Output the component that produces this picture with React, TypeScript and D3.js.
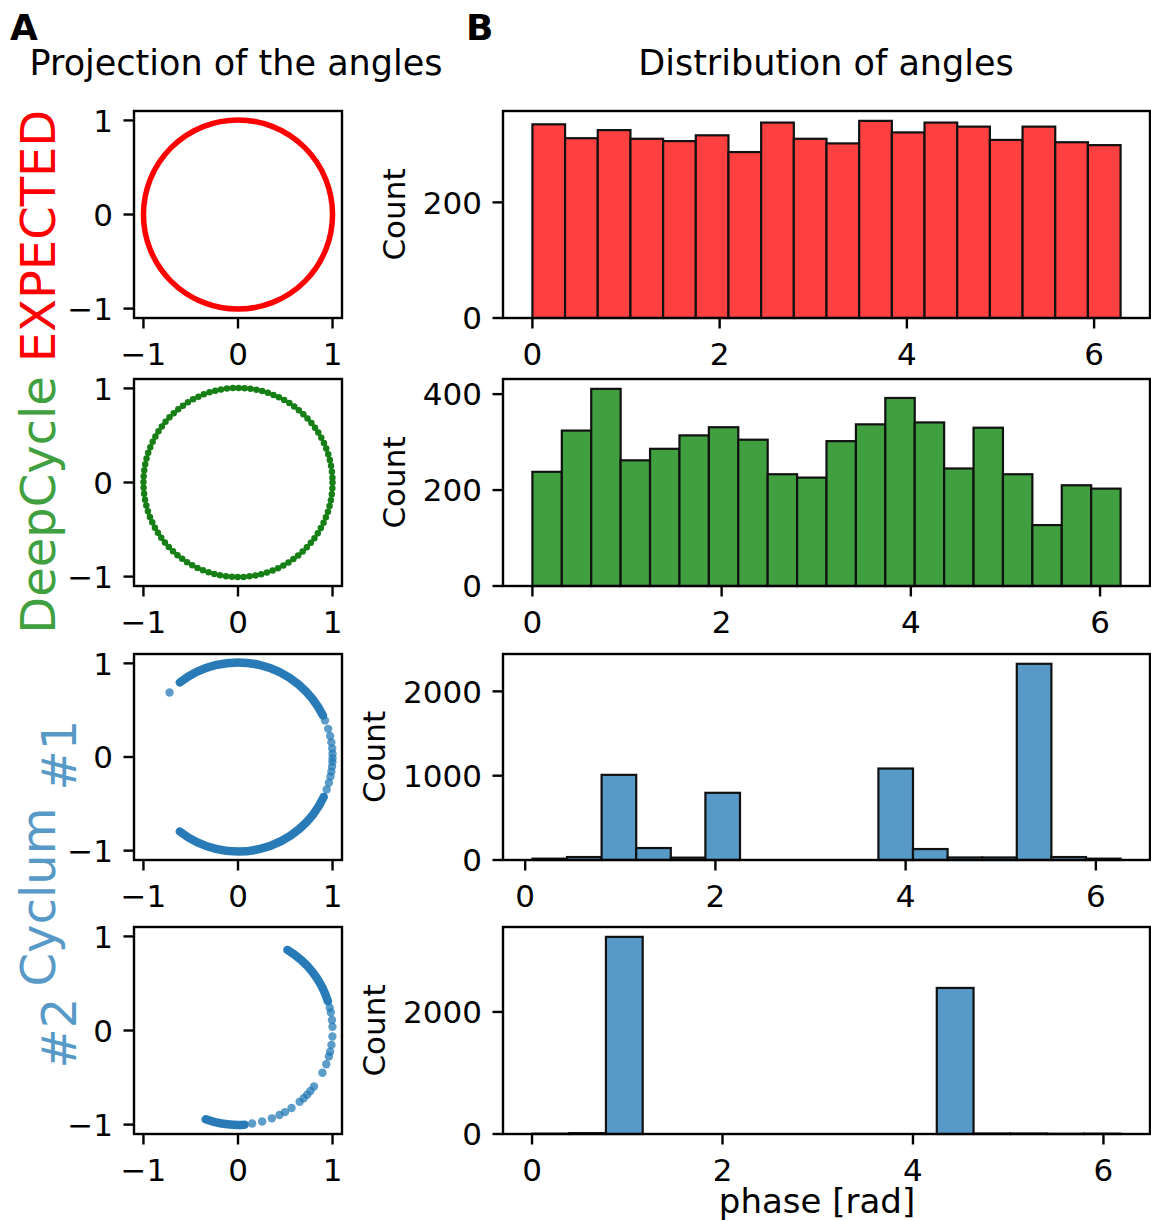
import React from "react";
import * as d3 from "d3";

// ---------- data ----------
const expectedCounts = [335, 311, 325, 310, 306, 316, 287, 338, 310, 302, 341, 321, 338, 331, 308, 331, 304, 299];
const deepCycleCounts = [238, 324, 411, 262, 286, 314, 331, 305, 233, 226, 302, 337, 392, 341, 245, 330, 233, 127, 210, 203];
const cyclum1Counts = [16, 35, 1010, 142, 28, 797, 0, 0, 0, 0, 1085, 130, 30, 30, 2327, 35, 16];
const cyclum2Counts = [5, 15, 3230, 0, 0, 0, 0, 0, 0, 0, 0, 2393, 8, 8, 3, 5];

const expectedRange = [0, 6.283];
const deepCycleRange = [0, 6.217];
const cyclum1Range = [0.076, 6.26];
const cyclum2Range = [0.004, 6.18];

const expectedYTicks = [0, 200];
const deepCycleYTicks = [0, 200, 400];
const cyclum1YTicks = [0, 1000, 2000];
const cyclum2YTicks = [0, 2000];
const phaseTicks = [0, 2, 4, 6];
const unitTicks = [-1, 0, 1];

// projection of angles (degrees, counter-clockwise from +x)
const cyclum1DenseArcs = [[-128, -25], [26, 128]];
const cyclum1Points = [136.4, 23, 17.5, 13, 9, 5.2, 2, -0.8, -3, -5.9, -9, -12, -16, -20.3];
const cyclum2DenseArcs = [[-110, -86], [18, 58.5]];
const cyclum2Points = [14, 11, 6.4, 2.3, -3.7, -8.8, -13, -16, -21, -26.7, -36.5, -40, -43, -46, -49.3, -55.5, -60.2, -64, -69, -75.2, -81.4];

const rowLabels = ["EXPECTED", "DeepCycle", "#1", "#2"];

// ---------- style ----------
const FONT = "DejaVu Sans";
const TICK_FS = 31;
const TICK_LEN = 10.5;
const TICK_PAD = 10.5;
const SPINE_W = 2.4;

const RED_FILL = "#ff4040";
const GREEN_FILL = "#40a040";
const BLUE_FILL = "#5799c7";
const BLUE_PT = "#1f77b4";

const rows = [
  { top: 111, bottom: 318, counts: expectedCounts, range: expectedRange, yTicks: expectedYTicks, fill: RED_FILL, kind: "ring" },
  { top: 379, bottom: 586, counts: deepCycleCounts, range: deepCycleRange, yTicks: deepCycleYTicks, fill: GREEN_FILL, kind: "dots" },
  { top: 654, bottom: 860, counts: cyclum1Counts, range: cyclum1Range, yTicks: cyclum1YTicks, fill: BLUE_FILL, kind: "scatter", arcs: cyclum1DenseArcs, pts: cyclum1Points },
  { top: 927, bottom: 1134, counts: cyclum2Counts, range: cyclum2Range, yTicks: cyclum2YTicks, fill: BLUE_FILL, kind: "scatter", arcs: cyclum2DenseArcs, pts: cyclum2Points },
];

const CIRC_L = 134, CIRC_R = 342;
const HIST_L = 503, HIST_R = 1150;

function CirclePanel({ row }: any) {
  const x = d3.scaleLinear().domain([-1.1, 1.1]).range([CIRC_L, CIRC_R]);
  const y = d3.scaleLinear().domain([-1.1, 1.1]).range([row.bottom, row.top]);
  const r = x(1) - x(0);
  const cx = x(0), cy = y(0);
  let marks: any = null;
  if (row.kind === "ring") {
    marks = <circle cx={cx} cy={cy} r={r} fill="none" stroke="#ff0000" strokeWidth={5.5} />;
  } else if (row.kind === "dots") {
    marks = (
      <g>
        <circle cx={cx} cy={cy} r={r} fill="none" stroke="#2a8c2a" strokeWidth={3} />
        <circle cx={cx} cy={cy} r={r} fill="none" stroke="#167f16" strokeWidth={6.5} strokeLinecap="round" strokeDasharray={`0 ${(2 * Math.PI * r) / 100}`} />
      </g>
    );
  } else {
    marks = (
      <g>
        {row.arcs.map((a: number[], i: number) => {
          const p = d3.path();
          const t1 = (a[0] * Math.PI) / 180, t2 = (a[1] * Math.PI) / 180;
          p.arc(cx, cy, r, -t1, -t2, true);
          return <path key={i} d={p.toString()} fill="none" stroke="#2277b5" strokeOpacity={0.97} strokeWidth={8.5} strokeLinecap="round" />;
        })}
        {row.pts.map((deg: number, i: number) => {
          const t = (deg * Math.PI) / 180;
          return <circle key={"p" + i} cx={x(Math.cos(t))} cy={y(Math.sin(t))} r={4.2} fill={BLUE_PT} fillOpacity={0.72} />;
        })}
      </g>
    );
  }
  return (
    <g>
      {marks}
      <rect x={CIRC_L} y={row.top} width={CIRC_R - CIRC_L} height={row.bottom - row.top} fill="none" stroke="#000" strokeWidth={SPINE_W} />
      {unitTicks.map((t) => (
        <g key={"x" + t}>
          <line x1={x(t)} x2={x(t)} y1={row.bottom} y2={row.bottom + TICK_LEN} stroke="#000" strokeWidth={SPINE_W} />
          <text x={x(t)} y={row.bottom + 47} textAnchor="middle" fontFamily={FONT} fontSize={TICK_FS}>{t < 0 ? "\u2212" + Math.abs(t) : String(t)}</text>
        </g>
      ))}
      {unitTicks.map((t) => (
        <g key={"y" + t}>
          <line x1={CIRC_L - TICK_LEN} x2={CIRC_L} y1={y(t)} y2={y(t)} stroke="#000" strokeWidth={SPINE_W} />
          <text x={CIRC_L - TICK_LEN - TICK_PAD} y={y(t) + 0.36 * TICK_FS} textAnchor="end" fontFamily={FONT} fontSize={TICK_FS}>{t < 0 ? "\u2212" + Math.abs(t) : String(t)}</text>
        </g>
      ))}
    </g>
  );
}

function HistPanel({ row, last }: any) {
  const n = row.counts.length;
  const [lo, hi] = row.range;
  const pad = (hi - lo) * 0.05;
  const x = d3.scaleLinear().domain([lo - pad, hi + pad]).range([HIST_L, HIST_R]);
  const maxC = d3.max(row.counts as number[]) as number;
  const y = d3.scaleLinear().domain([0, maxC * 1.05]).range([row.bottom, row.top]);
  const bw = (hi - lo) / n;
  const maxLabelLen = d3.max(row.yTicks.map((t: number) => String(t).length)) as number;
  const labelLeft = HIST_L - TICK_LEN - TICK_PAD - maxLabelLen * 0.636 * TICK_FS;
  return (
    <g>
      {row.counts.map((c: number, i: number) => {
        const x0 = x(lo + i * bw), x1 = x(lo + (i + 1) * bw);
        return <rect key={i} x={x0} y={y(c)} width={x1 - x0} height={y(0) - y(c)} fill={row.fill} stroke="#111" strokeWidth={2.2} />;
      })}
      <rect x={HIST_L} y={row.top} width={HIST_R - HIST_L} height={row.bottom - row.top} fill="none" stroke="#000" strokeWidth={SPINE_W} />
      {phaseTicks.map((t) => (
        <g key={"x" + t}>
          <line x1={x(t)} x2={x(t)} y1={row.bottom} y2={row.bottom + TICK_LEN} stroke="#000" strokeWidth={SPINE_W} />
          <text x={x(t)} y={row.bottom + 47} textAnchor="middle" fontFamily={FONT} fontSize={TICK_FS}>{t}</text>
        </g>
      ))}
      {row.yTicks.map((t: number) => (
        <g key={"y" + t}>
          <line x1={HIST_L - TICK_LEN} x2={HIST_L} y1={y(t)} y2={y(t)} stroke="#000" strokeWidth={SPINE_W} />
          <text x={HIST_L - TICK_LEN - TICK_PAD} y={y(t) + 0.36 * TICK_FS} textAnchor="end" fontFamily={FONT} fontSize={TICK_FS}>{t}</text>
        </g>
      ))}
      <text transform={`translate(${labelLeft - 18},${(row.top + row.bottom) / 2}) rotate(-90)`} textAnchor="middle" fontFamily={FONT} fontSize={TICK_FS}>Count</text>
      {last && (
        <text x={817} y={1213} textAnchor="middle" fontFamily={FONT} fontSize={34}>phase [rad]</text>
      )}
    </g>
  );
}

function RotLabel({ x, y, text, color }: any) {
  return (
    <text transform={`translate(${x},${y}) rotate(-90)`} textAnchor="middle" fontFamily={FONT} fontSize={48} fill={color}>{text}</text>
  );
}

export default function App() {
  return (
    <svg width={1151} height={1220} style={{ position: "absolute", left: 0, top: 0, background: "#fff" }}>
      <rect x={0} y={0} width={1151} height={1220} fill="#fff" />
      <text x={10} y={40} fontFamily={FONT} fontWeight="bold" fontSize={36}>A</text>
      <text x={466} y={40} fontFamily={FONT} fontWeight="bold" fontSize={36}>B</text>
      <text x={236} y={75} textAnchor="middle" fontFamily={FONT} fontSize={35}>Projection of the angles</text>
      <text x={826} y={75} textAnchor="middle" fontFamily={FONT} fontSize={35}>Distribution of angles</text>
      <RotLabel x={55} y={236} text={rowLabels[0]} color="#ff0000" />
      <RotLabel x={55} y={505} text={rowLabels[1]} color={GREEN_FILL} />
      <RotLabel x={55} y={897} text="Cyclum" color={BLUE_FILL} />
      <RotLabel x={76} y={755} text={rowLabels[2]} color={BLUE_FILL} />
      <RotLabel x={76} y={1033} text={rowLabels[3]} color={BLUE_FILL} />
      {rows.map((row, i) => (
        <g key={i}>
          <CirclePanel row={row} />
          <HistPanel row={row} last={i === rows.length - 1} />
        </g>
      ))}
    </svg>
  );
}
